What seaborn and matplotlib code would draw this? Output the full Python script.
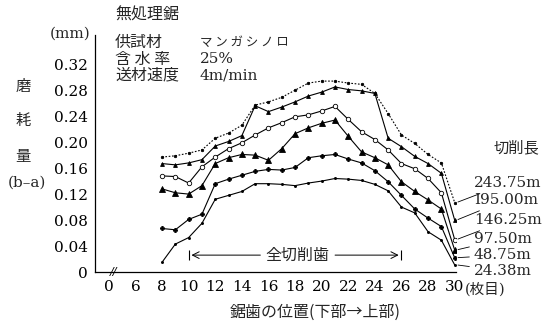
import numpy as np
import pandas as pd
import matplotlib
matplotlib.use("Agg")
import matplotlib.pyplot as plt
import seaborn as sns

sns.set_theme(style="white")
plt.rcParams['font.family'] = ['DejaVu Serif', 'Noto Sans CJK JP']
plt.rcParams['axes.unicode_minus'] = False

# saw tooth position (tooth number from the bottom)
teeth = list(range(8, 31))

# wear (b-a) in mm per cutting length
wear_24375 = [0.177, 0.179, 0.183, 0.188, 0.206, 0.214, 0.226, 0.257, 0.262, 0.269, 0.280,
              0.291, 0.294, 0.294, 0.291, 0.289, 0.275, 0.244, 0.211, 0.198, 0.181, 0.168, 0.107]
wear_19500 = [0.167, 0.165, 0.168, 0.173, 0.194, 0.201, 0.210, 0.256, 0.247, 0.254, 0.262,
              0.271, 0.277, 0.285, 0.281, 0.279, 0.275, 0.206, 0.193, 0.178, 0.167, 0.152, 0.080]
wear_14625 = [0.148, 0.147, 0.137, 0.162, 0.177, 0.190, 0.199, 0.211, 0.222, 0.230, 0.239,
              0.242, 0.248, 0.255, 0.235, 0.216, 0.204, 0.188, 0.167, 0.159, 0.144, 0.122, 0.050]
wear_9750 = [0.128, 0.122, 0.120, 0.133, 0.167, 0.176, 0.181, 0.180, 0.172, 0.190, 0.213,
             0.222, 0.229, 0.234, 0.209, 0.185, 0.176, 0.165, 0.139, 0.124, 0.111, 0.097, 0.034]
wear_4875 = [0.067, 0.065, 0.081, 0.089, 0.136, 0.143, 0.149, 0.155, 0.158, 0.157, 0.161,
             0.176, 0.179, 0.181, 0.174, 0.168, 0.156, 0.139, 0.118, 0.097, 0.083, 0.070, 0.022]
wear_2438 = [0.015, 0.043, 0.053, 0.075, 0.112, 0.118, 0.124, 0.136, 0.136, 0.135, 0.133,
             0.137, 0.140, 0.144, 0.143, 0.141, 0.135, 0.125, 0.100, 0.091, 0.062, 0.049, 0.011]

series_labels = ["243.75m", "I95.00m", "146.25m", "97.50m", "48.75m", "24.38m"]
series_values = [wear_24375, wear_19500, wear_14625, wear_9750, wear_4875, wear_2438]

x_ticks = [4, 6] + list(range(8, 31, 2))
x_ticklabels = ["0", "6"] + [str(v) for v in range(8, 31, 2)]
y_ticks = [0, 0.04, 0.08, 0.12, 0.16, 0.20, 0.24, 0.28, 0.32]
y_ticklabels = ["0", "0.04", "0.08", "0.12", "0.16", "0.20", "0.24", "0.28", "0.32"]

styles = [
    dict(linestyle=(0, (1.5, 1.5)), marker='.', markersize=3.5, mfc='black'),
    dict(linestyle='-', marker='^', markersize=2.8, mfc='black'),
    dict(linestyle='-', marker='o', markersize=3.2, mfc='white'),
    dict(linestyle='-', marker='^', markersize=4.2, mfc='black'),
    dict(linestyle='-', marker='P', markersize=3.0, mfc='black'),
    dict(linestyle='-', marker='.', markersize=3.0, mfc='black'),
]

W, H = 543, 329
fig = plt.figure(figsize=(W / 100, H / 100), dpi=100)
ax = fig.add_axes([95 / W, (H - 272) / H, 361 / W, 237 / H])

for vals, st in zip(series_values, styles):
    df = pd.DataFrame({"tooth": teeth, "wear": vals})
    sns.lineplot(data=df, x="tooth", y="wear", ax=ax, color='black', linewidth=0.8,
                 linestyle=st['linestyle'], marker=st['marker'], markersize=st['markersize'],
                 markerfacecolor=st['mfc'], markeredgecolor='black', markeredgewidth=0.6)

ax.set_xlim(2.96, 30.1)
ax.set_ylim(0, 0.365)
ax.set_xticks(x_ticks)
ax.set_xticklabels(x_ticklabels, fontsize=11)
ax.set_yticks(y_ticks)
ax.set_yticklabels(y_ticklabels, fontsize=11)
ax.set_xlabel("")
ax.set_ylabel("")
ax.tick_params(axis='x', direction='in', length=3, width=0.8, pad=6, colors='black')
ax.tick_params(axis='y', direction='out', length=3, width=0.8, pad=2, colors='black')
for s in ['top', 'right']:
    ax.spines[s].set_visible(False)
for s in ['left', 'bottom']:
    ax.spines[s].set_color('black')
    ax.spines[s].set_linewidth(0.9)
ax.grid(False)

jp = ['Noto Sans CJK JP']

# axis break on the x axis
ax.text(4.35, 0.0, "//", fontsize=8, ha='center', va='center', family='DejaVu Sans',
        style='italic', color='black')

# full-cutting-teeth span
yspan = 0.026
ax.annotate("", xy=(10, yspan), xytext=(15.6, yspan),
            arrowprops=dict(arrowstyle='->', color='black', lw=0.7))
ax.annotate("", xy=(26, yspan), xytext=(20.8, yspan),
            arrowprops=dict(arrowstyle='->', color='black', lw=0.7))
ax.vlines([10, 26], yspan - 0.008, yspan + 0.008, color='black', lw=0.8)
ax.text(18.2, yspan, "全切削歯", ha='center', va='center', fontsize=11.5, family=jp)

# cutting-length labels with leader lines to the last tooth
label_y = [183, 200, 220, 239, 255, 271]
for vals, lab, ly in zip(series_values, series_labels, label_y):
    ax.annotate(lab, xy=(30.15, vals[-1]), xytext=(474, H - ly), textcoords='figure pixels',
                ha='left', va='center', fontsize=11, annotation_clip=False,
                arrowprops=dict(arrowstyle='-', color='black', lw=0.6, shrinkA=1, shrinkB=1))
fig.text(516 / W, 1 - 148 / H, "切削長", ha='center', va='center', fontsize=11, family=jp)

# header block
fig.text(115 / W, 1 - 15 / H, "無処理鋸", ha='left', va='center', fontsize=11.5, family=jp)
fig.text(115 / W, 1 - 42 / H, "供試材", ha='left', va='center', fontsize=11.5, family=jp)
fig.text(200 / W, 1 - 42 / H, "マ ン ガ シ ノ ロ", ha='left', va='center', fontsize=9, family=jp)
fig.text(115 / W, 1 - 59 / H, "含 水 率", ha='left', va='center', fontsize=11.5, family=jp)
fig.text(200 / W, 1 - 59 / H, "25%", ha='left', va='center', fontsize=11)
fig.text(115 / W, 1 - 75 / H, "送材速度", ha='left', va='center', fontsize=11.5, family=jp)
fig.text(200 / W, 1 - 75 / H, "4m/min", ha='left', va='center', fontsize=11)

# y axis title, stacked vertically
fig.text(70 / W, 1 - 34 / H, "(mm)", ha='center', va='center', fontsize=11)
fig.text(23 / W, 1 - 86 / H, "磨", ha='center', va='center', fontsize=11, family=jp)
fig.text(23 / W, 1 - 121 / H, "耗", ha='center', va='center', fontsize=11, family=jp)
fig.text(23 / W, 1 - 157 / H, "量", ha='center', va='center', fontsize=11, family=jp)
fig.text(27 / W, 1 - 183 / H, "(b–a)", ha='center', va='center', fontsize=11)

# x axis title and unit
fig.text(315 / W, 1 - 312 / H, "鋸歯の位置(下部→上部)", ha='center', va='center',
         fontsize=11.5, family=jp)
fig.text(465 / W, 1 - 289 / H, "(枚目)", ha='left', va='center', fontsize=10.5,
         family=['DejaVu Serif', 'Noto Sans CJK JP'])

fig.savefig("out.png", dpi=100, facecolor='white')
